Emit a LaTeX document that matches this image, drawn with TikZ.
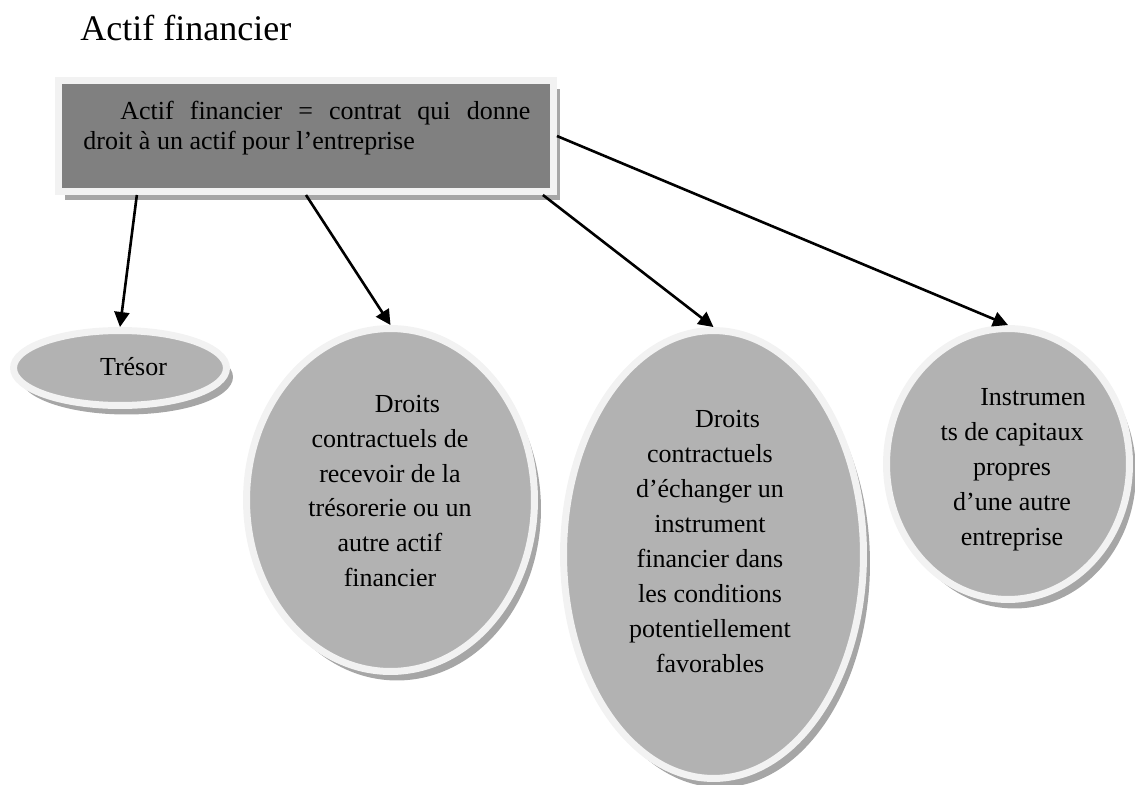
\documentclass[tikz,border=0pt]{standalone}
\usepackage{fontspec}
\setmainfont{Liberation Serif}
\usetikzlibrary{shapes.geometric,shadows,arrows.meta,calc}
\definecolor{boxgray}{HTML}{808080}
\definecolor{ellgray}{HTML}{B2B2B2}
\definecolor{framegray}{HTML}{F2F2F2}
\definecolor{shadegray}{HTML}{A6A6A6}

\begin{document}
\begin{tikzpicture}[x=0.02cm,y=-0.02cm,
  frame/.style={draw=framegray, line width=0.14cm},
  headbox/.style={frame, rectangle, fill=boxgray,
    drop shadow={shadow xshift=0.13cm, shadow yshift=-0.17cm, fill=shadegray, opacity=1}},
  bubble/.style={frame, ellipse, fill=ellgray, inner sep=0pt,
    drop shadow={shadow xshift=0.13cm, shadow yshift=-0.18cm, fill=shadegray, opacity=1}},
  bodytext/.style={inner sep=0pt, font=\fontsize{14.8}{19.9}\selectfont, align=center},
  link/.style={line width=0.052cm, -{Triangle[length=0.3cm,width=0.3cm]}}
]
\useasboundingbox (0,0) rectangle (1135,784);

% heading
\node[anchor=base west, inner sep=0pt, font=\fontsize{20.5}{24}\selectfont] (title) at (80,41) {Actif financier};

% definition box
\node[headbox, minimum width=9.9cm, minimum height=2.22cm] (box) at (306,136) {};
\node[anchor=north west, inner sep=0pt, align=left, font=\fontsize{14.8}{17.07}\selectfont] (boxtext) at (83,101)
  {\hspace*{0.74cm}\makebox[8.2cm][s]{Actif financier = contrat qui donne}\\droit à un actif pour l’entreprise};

% the four categories
\node[bubble, minimum width=4.26cm, minimum height=1.5cm] (tres) at (120,368) {};
\node[bubble, minimum width=5.76cm, minimum height=6.86cm] (e2) at (390.5,500) {};
\node[bubble, minimum width=6cm, minimum height=8.96cm] (e3) at (713.5,554.5) {};
\node[bubble, minimum width=4.86cm, minimum height=5.42cm] (e4) at (1008,464) {};

\node[bodytext] (t1) at (133.5,367) {Trésor};
\node[bodytext] (t2) at (390,491) {\hspace*{0.7cm}Droits\\contractuels de\\recevoir de la\\trésorerie ou un\\autre actif\\financier};
\node[bodytext] (t3) at (710,541.5) {\hspace*{0.7cm}Droits\\contractuels\\d’échanger un\\instrument\\financier dans\\les conditions\\potentiellement\\favorables};
\node[bodytext] (t4) at (1012,470) {\hspace*{0.84cm}Instrumen\\ts de capitaux\\propres\\d’une autre\\entreprise};

% connectors
\draw[link] ($(box.south west)!0.163!(box.south east)$) -- (tres.north);
\draw[link] (box.south) -- (e2.north);
\draw[link] ($(box.south west)!0.972!(box.south east)$) -- (e3.north);
\draw[link] (box.east) -- (e4.north);
\end{tikzpicture}
\end{document}
